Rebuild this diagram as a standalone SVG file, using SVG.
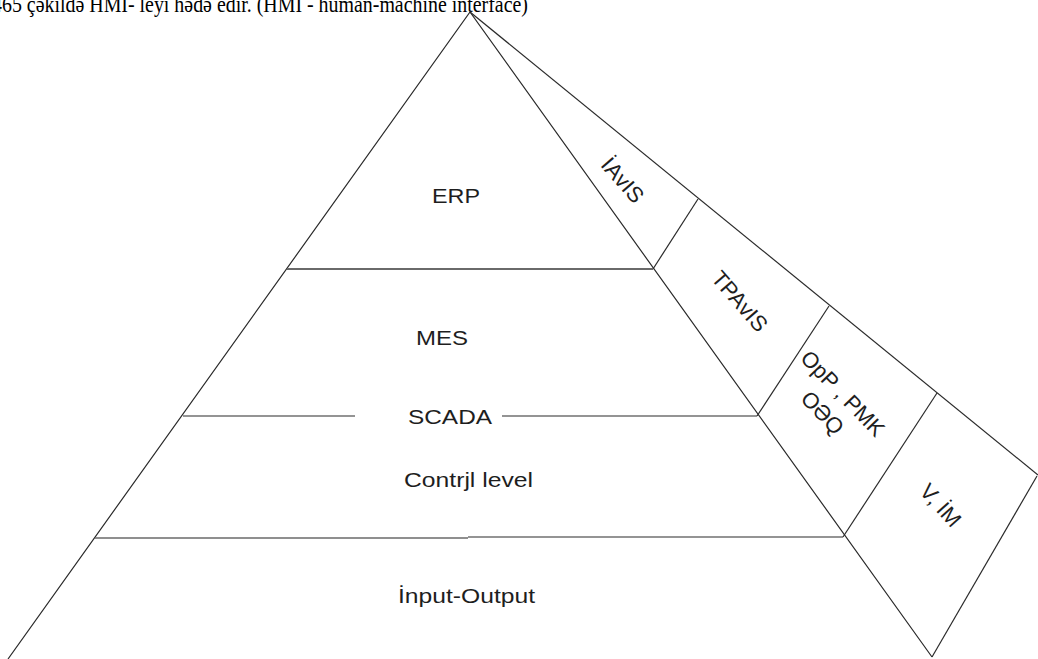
<svg xmlns="http://www.w3.org/2000/svg" width="1038" height="659" viewBox="0 0 1038 659">
<style>
.ln{stroke:#2a2a2a;stroke-width:1.2;fill:none}
.gl{stroke:#6a6a6a;stroke-width:2;fill:none}
.t{font-family:"Liberation Sans",Arial,sans-serif;font-size:21px;fill:#1e1e1e}
.r{font-family:"Liberation Sans",Arial,sans-serif;font-size:22px;fill:#1e1e1e;text-anchor:middle}
.cap{font-family:"Liberation Serif","Times New Roman",serif;font-size:23px;fill:#000}
</style>
<rect width="1038" height="659" fill="#fff"/>
<text class="cap" x="-8" y="12" textLength="536" lengthAdjust="spacingAndGlyphs">465 çəkildə HMI- leyi hədə edir. (HMI - human-machine interface)</text>
<g id="connectors">
<polyline class="ln" points="8,659 470,12 932,657"/>
<line class="ln" x1="470" y1="12" x2="1038" y2="475"/>
<line class="ln" x1="1037" y1="476" x2="932" y2="657"/>
<line class="ln" x1="653" y1="269" x2="698" y2="199"/>
<line class="ln" x1="757" y1="416" x2="829" y2="306"/>
<line class="ln" x1="843" y1="537" x2="937" y2="393"/>
<line class="gl" x1="287" y1="269" x2="653" y2="269"/>
<line class="ln" x1="183" y1="416" x2="355" y2="416"/>
<line class="ln" x1="502" y1="416" x2="757" y2="416"/>
<line class="gl" x1="95" y1="538" x2="468" y2="538" style="stroke-width:1.4"/>
<line class="ln" x1="468" y1="537" x2="843" y2="537"/>
</g>
<g id="erp"><text class="t" x="432" y="203" textLength="48" lengthAdjust="spacingAndGlyphs">ERP</text></g>
<g id="mes"><text class="t" x="416" y="345" textLength="52" lengthAdjust="spacingAndGlyphs">MES</text></g>
<g id="scada"><text class="t" x="408" y="424" textLength="84" lengthAdjust="spacingAndGlyphs">SCADA</text></g>
<g id="control"><text class="t" x="404" y="487" textLength="129" lengthAdjust="spacingAndGlyphs">Contrjl level</text></g>
<g id="io"><text class="t" x="398" y="603" textLength="137" lengthAdjust="spacingAndGlyphs">İnput-Output</text></g>
<g id="iavis"><text class="r" transform="translate(623,180) rotate(49)" y="8">İAvIS</text></g>
<g id="tpavis"><text class="r" transform="translate(740,301) rotate(49)" y="8">TPAvIS</text></g>
<g id="opp"><text class="r" transform="translate(843,393) rotate(46)" y="8">OpP , PMK<tspan x="0" dy="28">OƏQ</tspan></text></g>
<g id="vim"><text class="r" transform="translate(941,505) rotate(48)" y="8">V, İM</text></g>
</svg>
